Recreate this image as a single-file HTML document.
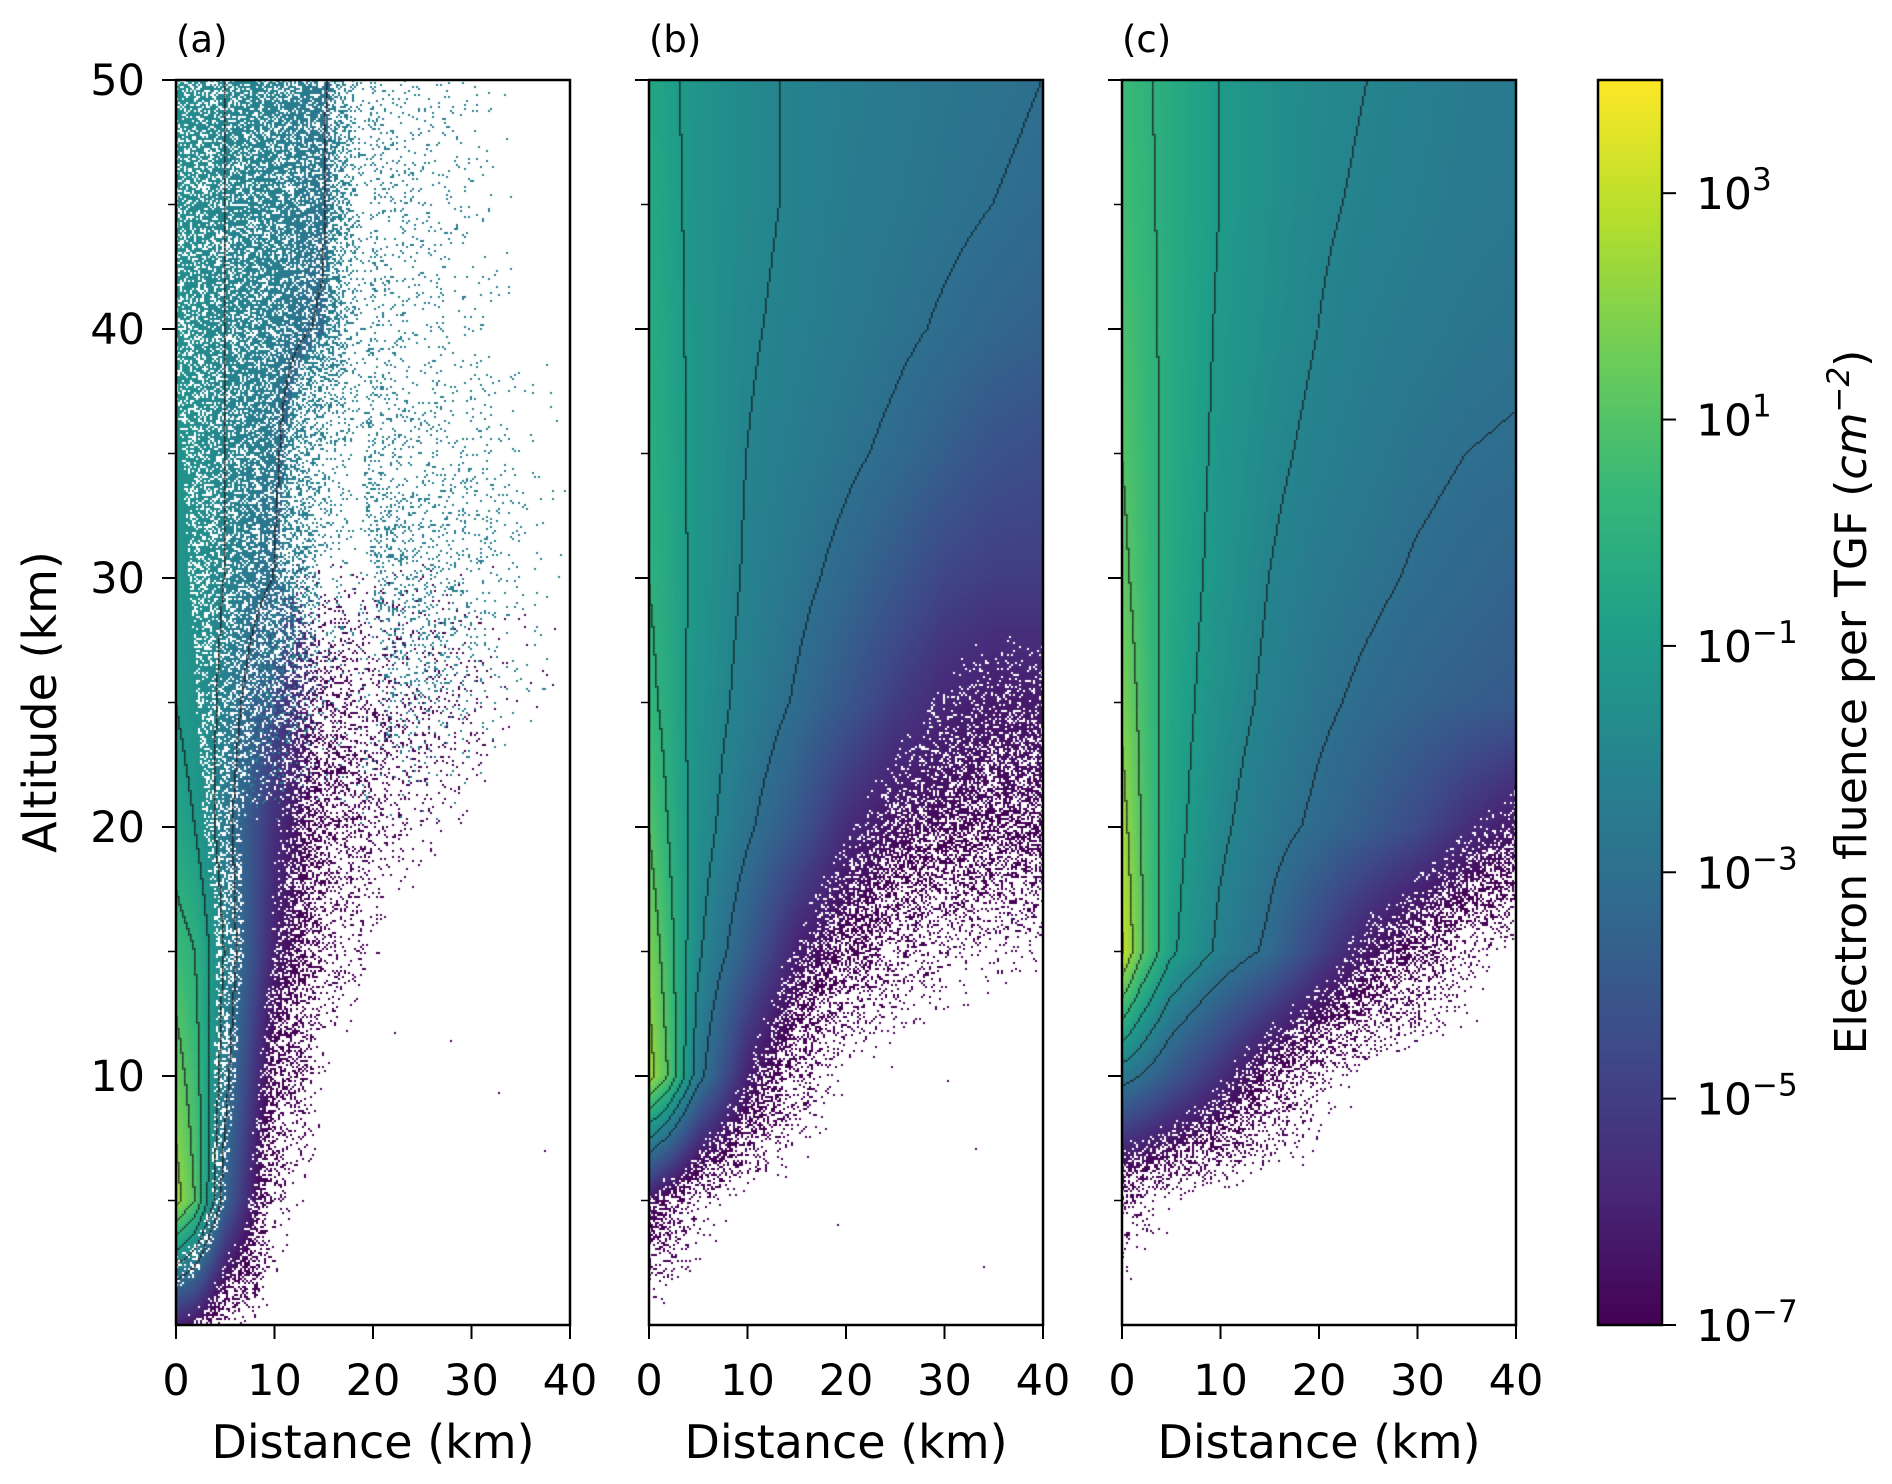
<!DOCTYPE html>
<html><head><meta charset="utf-8">
<style>
body{margin:0;background:#fff;font-family:"DejaVu Sans","Liberation Sans",sans-serif;}
#root{position:relative;width:1892px;height:1484px;overflow:hidden;background:#fff}
.abs{position:absolute}
canvas{position:absolute}
</style></head>
<body>
<div id="root">
<svg id="svg" class="abs" style="left:0;top:0" width="1892" height="1484"></svg>
</div>
<script>
// Grid definition (km)
const altitudes = [50,45,40,35,30,25,20,15,10,5,0];
const distances = [0,2,5,10,15,20,25,30,35,40];
// log10 electron fluence per panel; -9 = no data (white)
const panelA = [
 [-1.6,-1.8,-2.0,-2.2,-2.6,-8.3,-8.5,-8.6,-8.7,-8.7],
 [-1.6,-1.8,-2.0,-2.2,-2.7,-8.3,-8.5,-8.6,-8.7,-8.7],
 [-1.5,-1.8,-2.0,-2.3,-3.2,-8.3,-8.5,-8.6,-8.7,-8.7],
 [-1.3,-1.6,-2.0,-2.5,-6.5,-8.2,-8.4,-8.5,-8.6,-8.7],
 [-1.2,-1.5,-2.0,-3.0,-7.2,-7.9,-8.2,-8.4,-8.6,-8.7],
 [-1.0,-1.4,-2.2,-4.5,-7.2,-7.8,-8.1,-8.4,-8.6,-8.7],
 [-0.5,-1.0,-2.5,-5.5,-7.5,-8.2,-8.5,-8.7,-9,-9],
 [0.5,0.0,-2.0,-6.0,-8.0,-8.6,-9,-9,-9,-9],
 [1.5,0.5,-2.5,-7.2,-8.6,-9,-9,-9,-9,-9],
 [2.5,1.0,-3.5,-8.2,-9,-9,-9,-9,-9,-9],
 [-6.0,-6.5,-8.2,-9,-9,-9,-9,-9,-9,-9]
];
const panelB = [
 [-0.5,-0.8,-1.3,-1.8,-2.1,-2.3,-2.5,-2.7,-2.8,-3.0],
 [-0.4,-0.7,-1.3,-1.8,-2.1,-2.4,-2.6,-2.8,-3.0,-3.2],
 [-0.3,-0.6,-1.3,-1.9,-2.2,-2.5,-2.8,-3.1,-3.4,-3.6],
 [-0.2,-0.5,-1.3,-2.0,-2.4,-2.8,-3.2,-3.7,-4.2,-4.4],
 [0.0,-0.4,-1.3,-2.1,-2.7,-3.3,-4.0,-4.7,-5.0,-5.0],
 [0.3,-0.3,-1.4,-2.3,-3.1,-4.0,-5.0,-5.8,-6.2,-6.2],
 [1.0,0.0,-1.5,-2.8,-4.0,-5.6,-6.5,-6.8,-7.0,-7.0],
 [1.8,0.5,-1.8,-3.8,-6.0,-7.2,-7.8,-8.3,-8.5,-8.6],
 [2.5,1.0,-2.5,-6.0,-7.9,-8.6,-9,-9,-9,-9],
 [-6.3,-7.2,-8.3,-8.8,-9,-9,-9,-9,-9,-9],
 [-9,-9,-9,-9,-9,-9,-9,-9,-9,-9]
];
const panelC = [
 [0.5,0.2,-0.3,-1.0,-1.5,-1.8,-2.0,-2.2,-2.4,-2.5],
 [0.6,0.3,-0.3,-1.0,-1.5,-1.9,-2.1,-2.3,-2.5,-2.6],
 [0.8,0.4,-0.3,-1.1,-1.6,-2.0,-2.3,-2.5,-2.7,-2.8],
 [1.0,0.5,-0.3,-1.2,-1.8,-2.2,-2.5,-2.8,-3.0,-3.1],
 [1.3,0.6,-0.4,-1.3,-2.0,-2.5,-2.8,-3.1,-3.3,-3.5],
 [1.8,0.8,-0.5,-1.5,-2.2,-2.8,-3.2,-3.5,-3.7,-3.9],
 [2.5,1.0,-0.6,-1.8,-2.6,-3.2,-3.8,-4.5,-5.5,-6.3],
 [3.2,1.2,-0.8,-2.2,-3.2,-4.8,-6.3,-7.3,-8.2,-8.7],
 [-2.5,-3.0,-4.0,-5.5,-7.2,-8.2,-8.8,-9,-9,-9],
 [-8.0,-8.3,-8.6,-9,-9,-9,-9,-9,-9,-9],
 [-9,-9,-9,-9,-9,-9,-9,-9,-9,-9]
];
const contourLevels = [-3,-2,-1,0,1,2,3];
const xTickLabels = ["0","10","20","30","40"];
const xTicks = [0,10,20,30,40];
const yTicks = [10,20,30,40,50];
const yTickLabels = ["10","20","30","40","50"];
const yMinorTicks = [5,15,25,35,45];
const cbTicks = [3,1,-1,-3,-5,-7];

const NS="http://www.w3.org/2000/svg";
const svg=document.getElementById('svg');
const root=document.getElementById('root');
const viridis=[[68,1,84],[72,40,120],[62,74,137],[49,104,142],[38,130,142],[31,158,137],[53,183,121],[109,205,89],[180,222,44],[253,231,37]];
function vcol(t){t=Math.max(0,Math.min(1,t));const s=t*(viridis.length-1);const i=Math.min(viridis.length-2,Math.floor(s));const f=s-i;const a=viridis[i],b=viridis[i+1];return [a[0]+(b[0]-a[0])*f,a[1]+(b[1]-a[1])*f,a[2]+(b[2]-a[2])*f];}
const vmin=-7,vmax=4;
const top0=80,bot0=1325,pw=394;
const yS=a=>bot0-(a-0)/(50-0)*(bot0-top0);
function mk(tag,attrs,name,parent){const e=document.createElementNS(NS,tag);for(const k in attrs)e.setAttribute(k,attrs[k]);(parent||svg).appendChild(e);return e;}
function sample(grid,d,a){
  let r=0;while(r<altitudes.length-2&&a<altitudes[r+1])r++;
  let c=0;while(c<distances.length-2&&d>distances[c+1])c++;
  const fa=(altitudes[r]-a)/(altitudes[r]-altitudes[r+1]);
  const fd=(d-distances[c])/(distances[c+1]-distances[c]);
  const v00=grid[r][c],v01=grid[r][c+1],v10=grid[r+1][c],v11=grid[r+1][c+1];
  return (v00*(1-fd)+v01*fd)*(1-fa)+(v10*(1-fd)+v11*fd)*fa;
}
function hash(x,y,s){let h=(x*374761393+y*668265263+s*2147483647)|0;h=(h^(h>>>13))*1274126177|0;h=h^(h>>>16);return ((h>>>0)%10000)/10000;}
const panels=[{g:panelA,x:176,lab:"(a)",n:"a"},{g:panelB,x:649,lab:"(b)",n:"b"},{g:panelC,x:1122,lab:"(c)",n:"c"}];
panels.forEach((p,pi)=>{
  const xS=d=>p.x+d/40*pw;
  const cv=document.createElement('canvas');
  cv.width=pw;cv.height=bot0-top0;
  cv.style.left=p.x+'px';cv.style.top=top0+'px';
  
  
  root.insertBefore(cv,svg);
  const ctx=cv.getContext('2d');
  const st=2;
  const W=Math.ceil(cv.width/st),H=Math.ceil(cv.height/st);
  const V=[];
  for(let j=0;j<H;j++){V.push([]);const a=50-(j*st+st/2)/cv.height*50;
    for(let i=0;i<W;i++){V[j].push(sample(p.g,(i*st+st/2)/cv.width*40,a));}}
  for(let j=0;j<H;j++)for(let i=0;i<W;i++){
    let v=V[j][i];
    const highA = pi===0 && j < H*(0.38+0.22*hash(i,j,11));
    if(highA && v<-3.3 && v>-7.9){ // transition zone: sparse teal tracks
      if(hash(i,j,5) > Math.max(0.06,Math.min(0.7,(v+7.9)/6)))continue;
      v=-2.3;
    } else if(v<-5.5){const pr=Math.max(0,Math.min(1,(v+8.7)/3.2));if(hash(i,j,pi+1)>pr)continue;}
    if(pi===0&&v>-3.5&&v<-1.4){if(hash(i,j,pi+7)<0.3)continue;}
    let cvv=v;
    if(pi===0&&v<-7.6&&highA)cvv=-2.3;
    const c=vcol((Math.max(cvv,vmin)-vmin)/(vmax-vmin));
    ctx.fillStyle=`rgb(${c[0]|0},${c[1]|0},${c[2]|0})`;
    ctx.fillRect(i*st,j*st,st,st);
  }
  ctx.fillStyle='rgba(20,20,20,0.9)';
  for(let j=0;j<H-1;j++)for(let i=0;i<W-1;i++){
    const v=V[j][i],vr=V[j][i+1],vd=V[j+1][i];
    if(v<-4)continue;
    for(const L of contourLevels){
      if((v-L)*(vr-L)<0||(v-L)*(vd-L)<0){ctx.fillRect(i*st,j*st,1.6,1.6);break;}
    }
  }
  mk('rect',{x:p.x,y:top0,width:pw,height:bot0-top0,fill:'none',stroke:'#000','stroke-width':2.5},'axes-frame-'+p.n);
  xTicks.forEach((t,i)=>{
    mk('line',{x1:xS(t),x2:xS(t),y1:bot0,y2:bot0+14,stroke:'#000','stroke-width':2},'x-tick-'+p.n);
    const tx=mk('text',{x:xS(t),y:1395,'text-anchor':'middle','font-size':43,fill:'#000'},'x-tick-label-'+p.n);tx.textContent=xTickLabels[i];
  });
  yTicks.forEach((t,i)=>{
    mk('line',{x1:p.x-14,x2:p.x,y1:yS(t),y2:yS(t),stroke:'#000','stroke-width':2},'y-tick-'+p.n);
    if(pi===0){const tx=mk('text',{x:145,y:yS(t)+15,'text-anchor':'end','font-size':43,fill:'#000'},'y-tick-label');tx.textContent=yTickLabels[i];}
  });
  yMinorTicks.forEach(t=>{mk('line',{x1:p.x-8,x2:p.x,y1:yS(t),y2:yS(t),stroke:'#000','stroke-width':1.5},'y-minor-tick-'+p.n);});
  const xl=mk('text',{x:p.x+pw/2,y:1458,'text-anchor':'middle','font-size':46,fill:'#000'},'x-axis-title-'+p.n);xl.textContent='Distance (km)';
  const pl=mk('text',{x:p.x,y:52,'font-size':37,fill:'#000'},'panel-label-'+p.n);pl.textContent=p.lab;
});
const yl=mk('text',{x:0,y:0,'text-anchor':'middle','font-size':46,fill:'#000',transform:'translate(56,702) rotate(-90)'},'y-axis-title');yl.textContent='Altitude (km)';
const cbx=1598,cbw=64;
const cbY=v=>bot0-(v-vmin)/(vmax-vmin)*(bot0-top0);
const defs=mk('defs',{},'defs');
const lg=mk('linearGradient',{id:'vir',x1:0,y1:1,x2:0,y2:0},'colorbar-gradient',defs);
viridis.forEach((c,i)=>mk('stop',{offset:(i/(viridis.length-1)),'stop-color':`rgb(${c})`},'gradient-stop',lg));
mk('rect',{x:cbx,y:top0,width:cbw,height:bot0-top0,fill:'url(#vir)',stroke:'#000','stroke-width':2.5},'colorbar');
cbTicks.forEach(t=>{
  mk('line',{x1:cbx+cbw,x2:cbx+cbw+14,y1:cbY(t),y2:cbY(t),stroke:'#000','stroke-width':2},'colorbar-tick');
  const tx=mk('text',{x:1696,y:cbY(t)+16,'font-size':44,fill:'#000'},'colorbar-tick-label');
  tx.textContent='10';
  const sp=document.createElementNS(NS,'tspan');sp.setAttribute('dy',-19);sp.setAttribute('font-size',31);sp.textContent=(t<0?'\u2212':'')+Math.abs(t);
  tx.appendChild(sp);
});
const cl=mk('text',{x:0,y:0,'text-anchor':'middle','font-size':44,fill:'#000',transform:'translate(1866,702) rotate(-90)'},'colorbar-title');
cl.innerHTML='Electron fluence per TGF (<tspan font-style="italic">cm</tspan><tspan dy="-17" font-size="31" font-style="italic">−2</tspan><tspan dy="17">)</tspan>';
</script>
</body></html>
